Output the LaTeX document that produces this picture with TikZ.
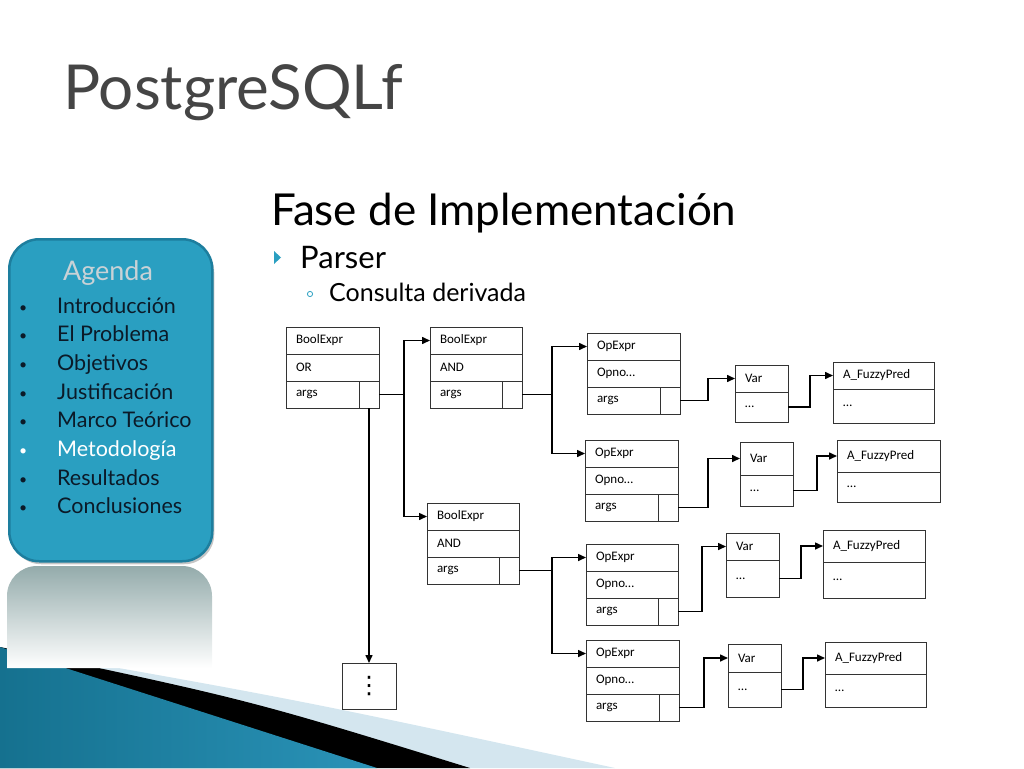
\documentclass[tikz,border=0pt]{standalone}
\usepackage{fontspec}
\setmainfont{Lato}
\newfontfamily\boxfont{Carlito}
\newfontfamily\symbolfont{DejaVu Sans}
\usetikzlibrary{positioning,calc,shadows,arrows.meta}
\definecolor{titlegray}{HTML}{454545}
\definecolor{agendafill}{HTML}{2A9FC1}
\definecolor{agendaline}{HTML}{1D7E9E}
\definecolor{agendatext}{HTML}{C9D2D6}
\definecolor{navy}{HTML}{0B1A28}
\definecolor{paleblue}{HTML}{D4E6EF}
\definecolor{swooshdark}{HTML}{15718F}
\definecolor{swooshlight}{HTML}{4BB1D5}
\definecolor{swooshmid}{HTML}{2A93B8}

\begin{document}
\begin{tikzpicture}[
    x=1pt, y=-1pt,
    cell/.style={draw=black!80, line width=1pt, outer sep=0pt, anchor=north west, inner xsep=10pt, inner ysep=0pt, align=left, font=\boxfont\fontsize{13}{15}\selectfont},
    link/.style={-{Triangle[length=8pt,width=7pt]}, line width=1.5pt},
    item/.style={anchor=base west, inner sep=0pt, font=\fontsize{21.5}{24}\selectfont, text=navy},
    dot/.style={anchor=base west, inner sep=0pt, font=\fontsize{14}{16}\selectfont, text=navy}
]
    \useasboundingbox (0,0) rectangle (1024,768);

    % Bottom swoosh
    \fill[paleblue] (0,647) .. controls (300,700) .. (615,768) -- (0,768) -- cycle;
    \fill[black] (0,647) .. controls (250,700) .. (470,768) -- (0,768) -- cycle;
    \shade[left color=swooshdark, middle color=swooshlight, right color=swooshmid] (0,647) -- (377,768) -- (0,768) -- cycle;

    % Agenda panel and reflection
    \shade[top color=black!35!cyan!20!gray!70, bottom color=white] (7,668) [rounded corners=30pt] -- (7,566) -- (212,566) [sharp corners] -- (212,668) -- cycle;
    \node[draw=agendaline, line width=2.5pt, fill=agendafill, rounded corners=30pt, anchor=north west,
          minimum width=203pt, minimum height=322pt,
          drop shadow={shadow xshift=2pt, shadow yshift=-3pt, opacity=.45}] (agendabox) at (8,238) {};
    \node[text=agendatext, font=\fontsize{27}{30}\selectfont] (agenda) at (108,273) {Agenda};
    \foreach \t [count=\i] in {Introducción, El Problema, Objetivos, Justificación, Marco Teórico, Metodología, Resultados, Conclusiones}{
        \pgfmathsetmacro\yy{313+(\i-1)*28.7}
        \ifnum\i=6 \def\col{white}\else\def\col{navy}\fi
        \node[dot, text=\col] at (19,\yy-1) {•};
        \node[item, text=\col] (item\i) at (57,\yy) {\t};
    }

    % Titles
    \node[anchor=base west, inner sep=0pt, text=titlegray, font=\fontsize{62}{70}\selectfont] (title) at (63,109) {PostgreSQLf};
    \node[anchor=base west, inner sep=0pt, font=\fontsize{44}{50}\selectfont] (phase) at (271,225) {Fase de Implementación};
    \fill[agendafill] (274,251) -- (281,257.5) -- (274,264) -- cycle;
    \node[anchor=base west, inner sep=0pt, font=\fontsize{31}{36}\selectfont] (parser) at (300,268) {Parser};
    \draw[agendafill, line width=.8pt] (310,294) circle (2.6pt);
    \node[anchor=base west, inner sep=0pt, font=\fontsize{25}{29}\selectfont] (query) at (329,301) {Consulta derivada};

    % Records with a pointer cell
    \foreach \n/\x/\y/\w/\hd/\md in {r1/286/327/93/BoolExpr/OR, r2/430/327/92/BoolExpr/AND, r3/427/503/92/BoolExpr/AND,
                                     o1/587/333/93/OpExpr/Opno…, o2/585/440/93/OpExpr/Opno…, o3/586/544/92/OpExpr/Opno…, o4/586/640/93/OpExpr/Opno…}{
        \pgfmathsetmacro\tw{\w-20}
        \pgfmathsetmacro\aw{\w-40}
        \node[cell, text width=\tw pt, minimum height=27pt] (\n-h) at (\x,\y) {\hd};
        \node[cell, text width=\tw pt, minimum height=27pt] (\n-m) at (\n-h.south west) {\md};
        \node[cell, text width=\aw pt, minimum height=27pt] (\n-a) at (\n-m.south west) {args};
        \node[cell, inner xsep=0pt, minimum width=20pt, minimum height=27pt] (\n-p) at (\n-a.north east) {};
    }

    % Var and A_FuzzyPred boxes
    \foreach \n/\x/\y/\w/\ha/\hb/\hd in {v1/735/365/53/27/30/Var, v2/740/442/53/33/31/Var, v3/726/533/53/27/37/Var, v4/728/644/53/28/35/Var,
                                         f1/833/362/101/27/34/A\_FuzzyPred, f2/837/440/103/32/30/A\_FuzzyPred, f3/823/530/102/32/36/A\_FuzzyPred, f4/825/642/101/32/33/A\_FuzzyPred}{
        \pgfmathsetmacro\tw{\w-20}
        \node[cell, text width=\tw pt, minimum height=\ha pt] (\n-h) at (\x,\y) {\hd};
        \node[cell, text width=\tw pt, minimum height=\hb pt] (\n-b) at (\n-h.south west) {…};
    }

    % Continuation box
    \node[draw=black!80, line width=1pt, outer sep=0pt, minimum width=54pt, minimum height=46pt, font=\symbolfont\fontsize{24}{26}\selectfont] (more) at (369,686) {⋮};

    % Connectors
    \foreach \s/\t/\d in {r1-p/r2-h/25, r1-p/r3-h/25, r2-p/o1-h/30, r2-p/o2-h/30, r3-p/o3-h/33, r3-p/o4-h/33,
                          o1-p/v1-h/28, o2-p/v2-h/30, o3-p/v3-h/24, o4-p/v4-h/25,
                          v1-b/f1-h/22, v2-b/f2-h/24, v3-b/f3-h/22, v4-b/f4-h/22}
        \draw[link] (\s.east) -- ++(\d,0) |- (\t.west);
    \draw[link] (r1-p.south) -- (more.north);
\end{tikzpicture}
\end{document}
